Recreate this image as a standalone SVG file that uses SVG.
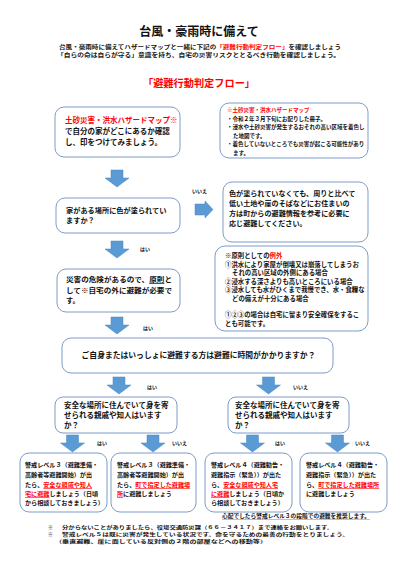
<svg xmlns="http://www.w3.org/2000/svg" width="400" height="565" viewBox="0 0 400 565">
<style>
text{font-family:"Noto Sans CJK JP","Noto Sans",sans-serif;font-weight:bold;fill:#111}
.box{fill:#fff;stroke:#7d9cc8;stroke-width:1}
.arrow{fill:#5b9bd5;stroke:#4a86c0;stroke-width:0.5}
.red{fill:#ff0000}
.u{text-decoration:underline}
.lbl{font-size:5px}
.f75{font-size:7.5px}
.f55{font-size:5.5px}
.f73{font-size:7.2px}
.f64{font-size:6.4px}
.f62{font-size:6.1px}
.ft{font-size:4.8px}
</style>
<defs>
<path id="down" d="M-6,0H6V8H12L0,17L-12,8H-6Z"/>
</defs>
<rect width="400" height="565" fill="#fff"/>
<g id="header">
<text x="199" y="36" font-size="12" text-anchor="middle">台風・豪雨時に備えて</text>
<text x="59" y="49" font-size="5.5" textLength="282" lengthAdjust="spacingAndGlyphs">台風・豪雨時に備えてハザードマップと一緒に下記の<tspan class="red">「避難行動判定フロー」</tspan>を確認しましょう</text>
<text x="57" y="57" font-size="5.5" textLength="283" lengthAdjust="spacingAndGlyphs">「自らの命は自らが守る」意識を持ち、自宅の災害リスクととるべき行動を確認しましょう。</text>
<text x="143" y="87" font-size="10.2" class="red" textLength="112" lengthAdjust="spacingAndGlyphs">「避難行動判定フロー」</text>
</g>
<g id="connectors">
<use href="#down" x="117" y="170" class="arrow"/>
<path class="arrow" d="M195,204H205V201L213,209.5L205,218V215H195Z"/>
<use href="#down" x="117" y="241" class="arrow"/>
<use href="#down" x="117" y="317" class="arrow"/>
<use href="#down" x="119" y="377" class="arrow"/>
<use href="#down" x="268.5" y="377" class="arrow"/>
<use href="#down" x="72.5" y="435" class="arrow"/>
<use href="#down" x="153" y="435" class="arrow"/>
<use href="#down" x="252.5" y="435" class="arrow"/>
<use href="#down" x="337.5" y="435" class="arrow"/>
<text class="lbl" x="192" y="193">いいえ</text>
<text class="lbl" x="140" y="251">はい</text>
<text class="lbl" x="143" y="330">はい</text>
<text class="lbl" x="147" y="389">はい</text>
<text class="lbl" x="293" y="389">いいえ</text>
<text class="lbl" x="97" y="445">はい</text>
<text class="lbl" x="172" y="445">いいえ</text>
<text class="lbl" x="275" y="445">はい</text>
<text class="lbl" x="355" y="445">いいえ</text>
</g>
<g id="n-hazardmap">
<rect class="box" x="55" y="107" width="125" height="50" rx="9"/>
<text class="f75" x="65" y="123"><tspan class="red">土砂災害・洪水ハザードマップ※</tspan></text>
<text class="f75" x="65" y="134">で自分の家がどこにあるか確認</text>
<text class="f75" x="65" y="145">し、印をつけてみましょう。</text>
</g>
<g id="n-hazardnote">
<rect class="box" x="220" y="103" width="148" height="55" rx="9"/>
<text class="f55 red" x="227" y="112">※土砂災害・洪水ハザードマップ</text>
<text class="f55" x="227" y="120.5">・令和２年３月下旬にお配りした冊子。</text>
<text class="f55" x="227" y="129">・浸水や土砂災害が発生するおそれの高い区域を着色し</text>
<text class="f55" x="233" y="137.5">た地図です。</text>
<text class="f55" x="227" y="146">・着色していないところでも災害が起こる可能性があり</text>
<text class="f55" x="233" y="154.5">ます。</text>
</g>
<g id="n-q1">
<rect class="box" x="56" y="198" width="124" height="35" rx="9"/>
<text class="f73" x="66" y="213">家がある場所に色が塗られてい</text>
<text class="f73" x="66" y="223">ますか？</text>
</g>
<g id="n-no1">
<rect class="box" x="223" y="182" width="145" height="60" rx="9"/>
<text font-size="7.1" x="229" y="196">色が塗られていなくても、周りと比べて</text>
<text font-size="7.1" x="229" y="206">低い土地や崖のそばなどにお住まいの</text>
<text font-size="7.1" x="229" y="216">方は町からの避難情報を参考に必要に</text>
<text font-size="7.1" x="229" y="226">応じ避難してください。</text>
</g>
<g id="n-yes1">
<rect class="box" x="57" y="269" width="123" height="43" rx="9"/>
<text font-size="7.2" x="66" y="282" textLength="106" lengthAdjust="spacingAndGlyphs">災害の危険があるので、<tspan class="u">原則</tspan>と</text>
<text font-size="7.2" x="66" y="292.5" textLength="106" lengthAdjust="spacingAndGlyphs">して※自宅の外に避難が必要で</text>
<text font-size="7.2" x="66" y="303">す。</text>
</g>
<g id="n-exception">
<rect class="box" x="215" y="246" width="153" height="85" rx="10"/>
<text class="f64" x="225" y="258">※原則としての<tspan class="red">例外</tspan></text>
<text class="f64" x="225" y="266.5">①洪水により家屋が倒壊又は崩落してしまうお</text>
<text class="f64" x="232" y="275">それの高い区域の外側にある場合</text>
<text class="f64" x="225" y="283.5">②浸水する深さよりも高いところにいる場合</text>
<text class="f64" x="225" y="292">③浸水しても水がひくまで我慢でき、水・食糧な</text>
<text class="f64" x="232" y="300.5">どの備えが十分にある場合</text>
<text class="f64" x="225" y="317">①②③の場合は自宅に留まり安全確保をするこ</text>
<text class="f64" x="225" y="325.5">とも可能です。</text>
</g>
<g id="n-q2">
<rect class="box" x="62" y="338" width="271" height="35" rx="9"/>
<text font-size="7.8" x="198.5" y="358" text-anchor="middle">ご自身またはいっしょに避難する方は避難に時間がかかりますか？</text>
</g>
<g id="n-q3left">
<rect class="box" x="55" y="397" width="122" height="36" rx="8"/>
<text class="f75" x="64" y="408">安全な場所に住んでいて身を寄</text>
<text class="f75" x="64" y="418">せられる親戚や知人はいます</text>
<text class="f75" x="64" y="428">か？</text>
</g>
<g id="n-q3right">
<rect class="box" x="228" y="397" width="121" height="36" rx="8"/>
<text class="f75" x="235" y="408">安全な場所に住んでいて身を寄</text>
<text class="f75" x="235" y="418">せられる親戚や知人はいます</text>
<text class="f75" x="235" y="428">か？</text>
</g>
<g id="n-a1">
<rect class="box" x="20" y="453" width="87" height="59" rx="9"/>
<text class="f62" x="25" y="467">警戒レベル３（避難準備・</text>
<text class="f62" x="25" y="477">高齢者等避難開始）が出</text>
<text class="f62" x="25" y="487">たら、<tspan class="red u">安全な親戚や知人</tspan></text>
<text class="f62" x="25" y="496"><tspan class="red u">宅に避難</tspan>しましょう（日頃</text>
<text class="f62" x="25" y="505">から相談しておきましょう）</text>
</g>
<g id="n-a2">
<rect class="box" x="111" y="453" width="85" height="59" rx="9"/>
<text class="f62" x="117" y="467">警戒レベル３（避難準備・</text>
<text class="f62" x="117" y="477">高齢者等避難開始）が出</text>
<text class="f62" x="117" y="487">たら、<tspan class="red u">町で指定した避難場</tspan></text>
<text class="f62" x="117" y="496"><tspan class="red u">所</tspan>に避難しましょう</text>
</g>
<g id="n-a3">
<rect class="box" x="205" y="453" width="87" height="59" rx="9"/>
<text class="f62" x="211" y="467">警戒レベル４（避難勧告・</text>
<text class="f62" x="211" y="477">避難指示（緊急））が出た</text>
<text class="f62" x="211" y="487">ら、<tspan class="red u">安全な親戚や知人宅</tspan></text>
<text class="f62" x="211" y="496"><tspan class="red u">に避難</tspan>しましょう（日頃か</text>
<text class="f62" x="211" y="505">ら相談しておきましょう）</text>
</g>
<g id="n-a4">
<rect class="box" x="300" y="453" width="87" height="59" rx="9"/>
<text class="f62" x="306" y="467">警戒レベル４（避難勧告・</text>
<text class="f62" x="306" y="477">避難指示（緊急））が出た</text>
<text class="f62" x="306" y="487">ら、<tspan class="red u">町で指定した避難場所</tspan></text>
<text class="f62" x="306" y="496">に避難しましょう</text>
</g>
<g id="footer">
<text x="222" y="518" font-size="5.5" textLength="148" lengthAdjust="spacingAndGlyphs">心配でしたら警戒レベル３の段階での避難を推奨します。</text>
<line x1="222" y1="519.5" x2="370" y2="519.5" stroke="#999" stroke-width="0.6"/>
<text class="ft" x="48" y="529">※</text>
<text class="ft" x="62" y="529" textLength="271" lengthAdjust="spacingAndGlyphs">分からないことがありましたら、役場交通防災課（６６－３４１７）まで連絡をお願いします。</text>
<text class="ft" x="48" y="536">※</text>
<text class="ft" x="62" y="536" textLength="287" lengthAdjust="spacingAndGlyphs">警戒レベル５は既に災害が発生している状況です。命を守るための最善の行動をとりましょう。</text>
<text class="ft" x="55" y="543" textLength="212" lengthAdjust="spacingAndGlyphs">（垂直避難、崖に面している反対側の２階の部屋などへの移動等）</text>
</g>
</svg>
